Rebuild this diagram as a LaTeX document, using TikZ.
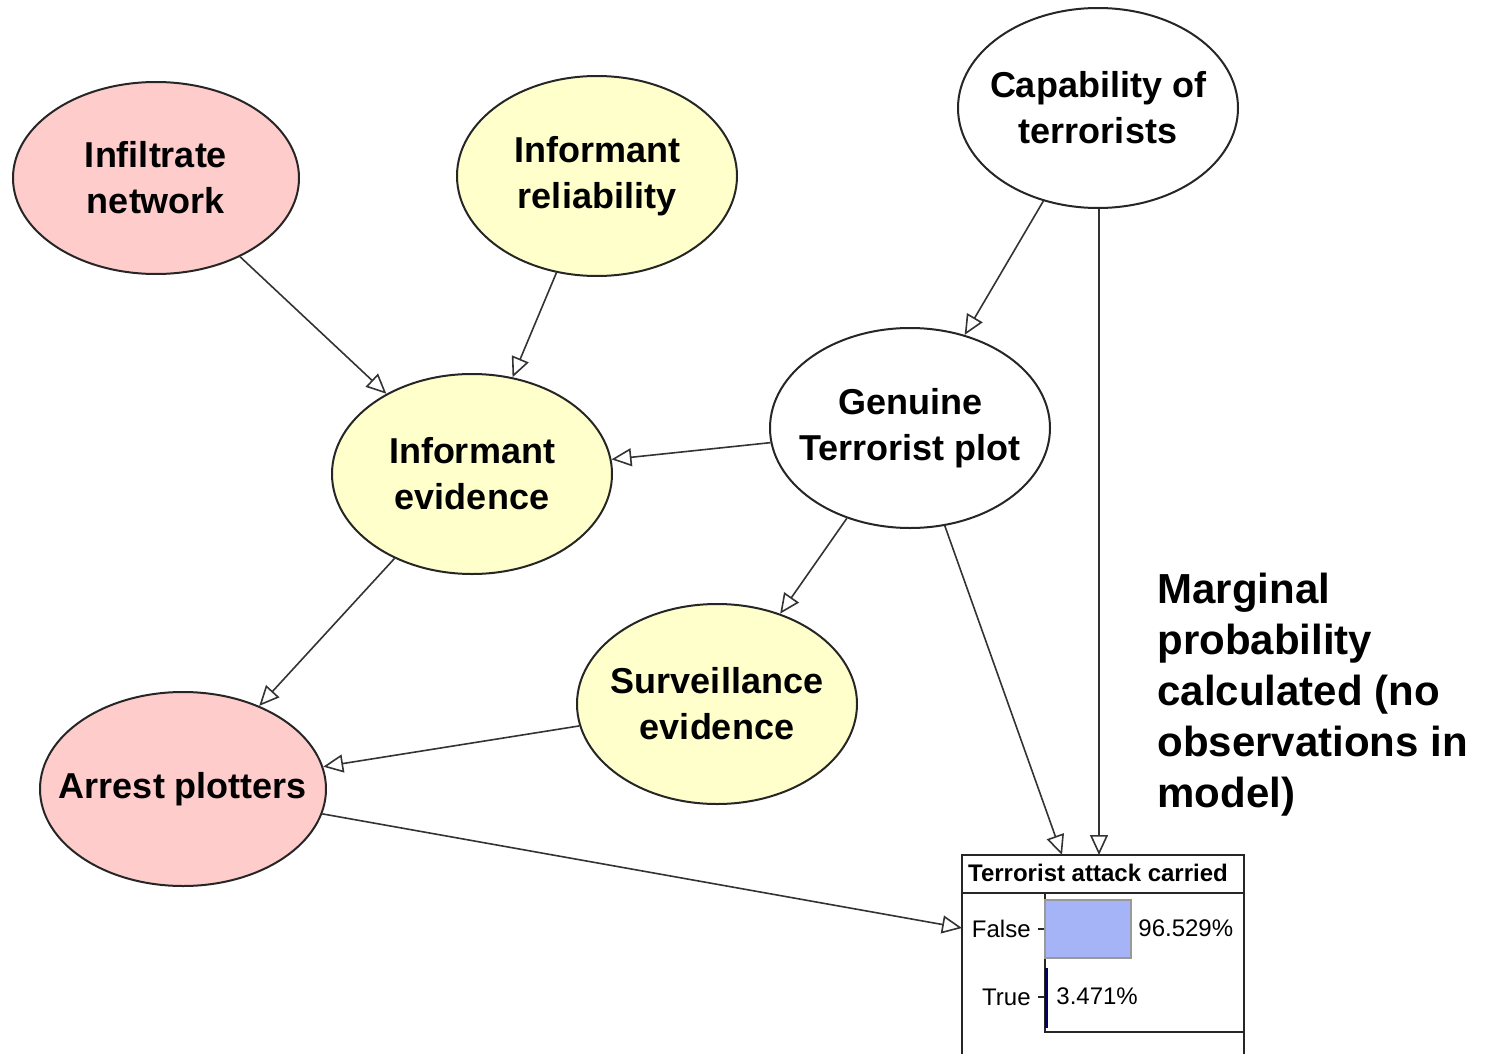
\documentclass[tikz,border=0pt]{standalone}
\usepackage{fontspec}
\setmainfont{Liberation Sans}
\usetikzlibrary{shapes.geometric,arrows.meta}
\definecolor{nodepink}{HTML}{FFCCCC}
\definecolor{nodeyellow}{HTML}{FFFFCC}
\definecolor{barblue}{HTML}{A5B4F6}
\definecolor{edgegray}{HTML}{333333}
\tikzset{
  bnode/.style={ellipse, draw=black!85, line width=1pt, inner sep=0pt,
    minimum width=140pt, minimum height=100pt},
  ntext/.style={label={[align=center, inner sep=0pt,
    font=\bfseries\fontsize{18}{23}\selectfont]center:#1}},
  pinknode/.style={bnode, fill=nodepink},
  yellownode/.style={bnode, fill=nodeyellow},
  whitenode/.style={bnode, fill=white},
  conn/.style={draw=edgegray, line width=0.8pt,
    -{Triangle[open, length=10pt, width=9pt]}},
  monlabel/.style={font=\fontsize{12}{14}\selectfont, inner sep=0pt},
}
\begin{document}
\begin{tikzpicture}[x=0.5pt, y=-0.5pt]
\useasboundingbox (0,0) rectangle (1488,1054);

% network nodes (sized independently of their text)
\node[pinknode, minimum width=143pt, minimum height=96pt,
  ntext={Infiltrate\\network}] (infil) at (156,178) {};
\node[yellownode, ntext={Informant\\reliability}] (reli) at (597,176) {};
\node[whitenode, ntext={Capability of\\terrorists}] (capab) at (1098,108) {};
\node[whitenode, ntext={Genuine\\Terrorist plot}] (plot) at (910,428) {};
\node[yellownode, ntext={Informant\\evidence}] (infev) at (472,474) {};
\node[yellownode, ntext={Surveillance\\evidence}] (surv) at (717,704) {};
\node[pinknode, minimum width=143pt, minimum height=97pt,
  ntext={Arrest plotters}] (arrest) at (183,789) {};

% monitor window for the outcome node
\draw[black!85, line width=0.9pt] (962,1060) -- (962,855) -- (1244,855) -- (1244,1060);
\draw[black!85, line width=0.9pt] (962,893) -- (1244,893);
\node[font=\bfseries\fontsize{12}{14}\selectfont, inner sep=0pt] (montitle) at (1098,873) {Terrorist attack carried};
\draw[black!85, line width=0.8pt] (1045,893) -- (1045,1032) -- (1244,1032);
\draw[black!85, line width=0.8pt] (1038,929) -- (1045,929);
\draw[black!85, line width=0.8pt] (1038,997) -- (1045,997);
\draw[fill=barblue, draw=gray!80, line width=0.6pt] (1045,900) rectangle (1131,958);
\fill[blue!40!black] (1045,968) rectangle (1048,1028);
\node[monlabel, anchor=east] (flab) at (1031,929) {False};
\node[monlabel, anchor=east] (tlab) at (1031,997) {True};
\node[monlabel, anchor=west] (fval) at (1138,928) {96.529\%};
\node[monlabel, anchor=west] (tval) at (1056,996) {3.471\%};

% where connectors meet the monitor
\coordinate (inplot) at (1062,855);
\coordinate (incap) at (1099,855);
\coordinate (inarrest) at (962,928);

% connectors
\draw[conn] (infil) -- (infev);
\draw[conn] (reli) -- (infev);
\draw[conn] (capab) -- (plot);
\draw[conn] (plot) -- (infev);
\draw[conn] (plot) -- (surv);
\draw[conn] (infev) -- (arrest);
\draw[conn] (surv) -- (arrest);
\draw[conn] (plot) -- (inplot);
\draw[conn] ([xshift=0.5pt]capab.south) -- (incap);
\draw[conn] (arrest) -- (inarrest);

% note
\node[anchor=north west, align=left, inner sep=0pt,
  font=\bfseries\fontsize{21}{25.5}\selectfont] (note) at (1157,573)
  {Marginal\\probability\\calculated (no\\observations in\\model)};
\end{tikzpicture}
\end{document}
